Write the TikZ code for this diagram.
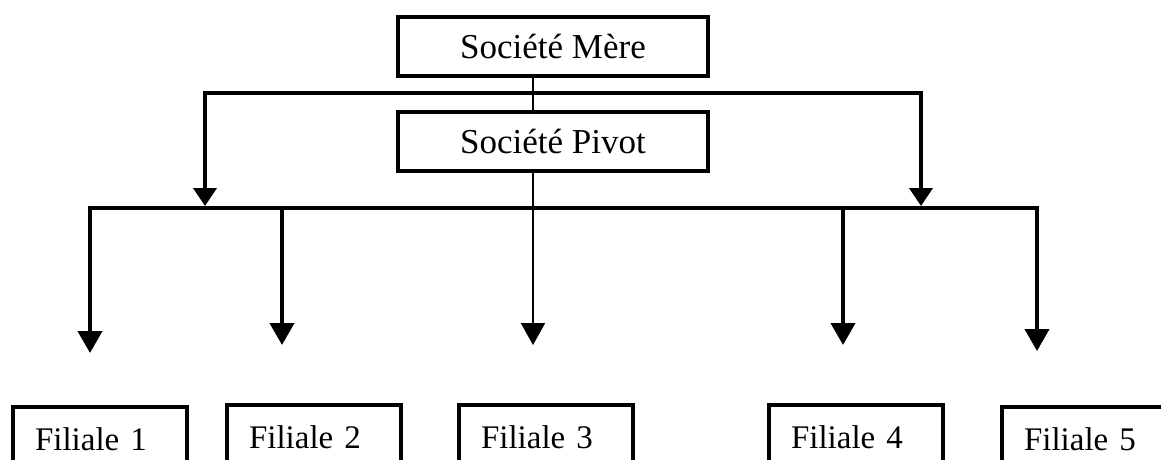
\documentclass[tikz,border=0pt]{standalone}
\usepackage{fontspec}
\setmainfont{Liberation Serif}
\usetikzlibrary{arrows.meta}
\begin{document}
\begin{tikzpicture}[x=1pt,y=-1pt,
  topbox/.style={draw, line width=4pt, minimum width=310pt, minimum height=59pt,
    inner sep=0pt, text height=24pt, text depth=0pt, font=\fontsize{35}{40}\selectfont},
  filbox/.style={draw, line width=4pt, anchor=north west, text width=130pt,
    inner xsep=22pt, inner ysep=0pt, align=left, minimum height=63pt,
    text height=23pt, text depth=0pt, font=\fontsize{33}{38}\selectfont},
  thickline/.style={line width=4pt},
  thinline/.style={line width=2pt},
  toptip/.style={{Triangle[width=23pt,length=18pt]}-{Triangle[width=23pt,length=18pt]}},
  bottip/.style={-{Triangle[width=24pt,length=22pt]}},
  bothtip/.style={{Triangle[width=24pt,length=22pt]}-{Triangle[width=24pt,length=22pt]}},
]
\useasboundingbox (0,0) rectangle (1161,459);
\clip (0,0) rectangle (1161,459);
\fill[white] (0,0) rectangle (1161,459);

% boxes
\node[topbox] (mere)  at (553,46.5)  {Société Mère};
\node[topbox] (pivot) at (553,141.5) {Société Pivot};
\node[filbox] (f1) at (11,405)  {Filiale 1};
\node[filbox] (f2) at (225,403) {Filiale 2};
\node[filbox] (f3) at (457,403) {Filiale 3};
\node[filbox] (f4) at (767,403) {Filiale 4};
\node[filbox] (f5) at (1000,405) {Filiale 5};

% coordinates
\coordinate (ul) at (205,93);
\coordinate (ur) at (921,93);
\coordinate (la) at (205,206);
\coordinate (ra) at (921,206);
\coordinate (bl) at (90,208);
\coordinate (br) at (1037,208);
\coordinate (t1) at (90,353);
\coordinate (t2) at (282,345);
\coordinate (t3) at (533,345);
\coordinate (t4) at (843,345);
\coordinate (t5) at (1037,351);

% central thin line
\draw[thinline] ([xshift=-20pt]mere.south) -- ([xshift=-20pt]pivot.north);
\draw[thinline,bottip] ([xshift=-20pt]pivot.south) -- (t3);

% upper bus
\draw[thickline,toptip] (la) -- (ul) -- (ur) -- (ra);

% lower bus
\draw[thickline,bothtip] (t1) -- (bl) -- (br) -- (t5);
\draw[thickline,bottip] (bl -| t2) -- (t2);
\draw[thickline,bottip] (bl -| t4) -- (t4);
\end{tikzpicture}
\end{document}
